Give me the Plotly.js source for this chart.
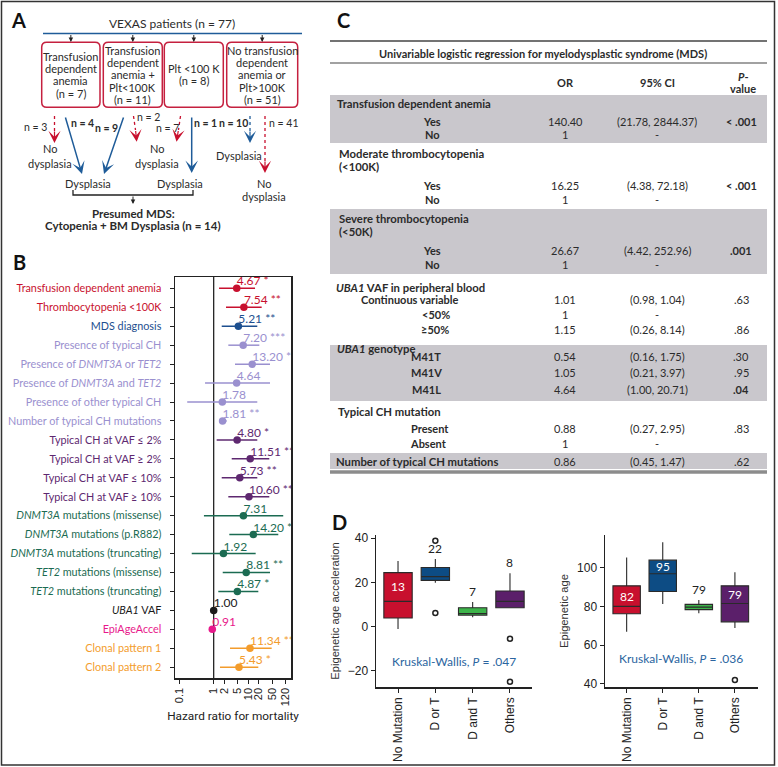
<!DOCTYPE html>
<html><head><meta charset="utf-8">
<script src="https://cdn.plot.ly/plotly-3.0.1.min.js"></script>
<style>html,body{margin:0;padding:0;background:#fff}#chart{width:778px;height:767px}</style>
</head><body><div id="chart"></div>
<script>
// ================= DATA =================
// Panel A (flow chart)
const flowTitle = "VEXAS patients (n = 77)";
const flowBoxes = [
  ["Transfusion", "dependent", "anemia", "(n = 7)"],
  ["Transfusion", "dependent", "anemia +", "Plt<100K", "(n = 11)"],
  ["Plt <100 K", "(n = 8)"],
  ["No transfusion", "dependent", "anemia or", "Plt>100K", "(n = 51)"]
];
const flowCounts = ["n = 3", "n = 4", "n = 9", "n = 2", "n = 7", "n = 1", "n = 10", "n = 41"];
const flowResult = ["Presumed MDS:", "Cytopenia + BM Dysplasia (n = 14)"];

// Panel B (forest plot)
const forestLabels = [
  "Transfusion dependent anemia", "Thrombocytopenia <100K", "MDS diagnosis",
  "Presence of typical CH", "Presence of DNMT3A or TET2", "Presence of DNMT3A and TET2",
  "Presence of other typical CH", "Number of typical CH mutations",
  "Typical CH at VAF \u2264 2%", "Typical CH at VAF \u2265 2%", "Typical CH at VAF \u2264 10%", "Typical CH at VAF \u2265 10%",
  "DNMT3A mutations (missense)", "DNMT3A mutations (p.R882)", "DNMT3A mutations (truncating)",
  "TET2 mutations (missense)", "TET2 mutations (truncating)",
  "UBA1 VAF", "EpiAgeAccel", "Clonal pattern 1", "Clonal pattern 2"
];
const forestHR = [4.67, 7.54, 5.21, 7.20, 13.20, 4.64, 1.78, 1.81, 4.80, 11.51, 5.73, 10.60, 7.31, 14.20, 1.92, 8.81, 4.87, 1.00, 0.91, 11.34, 5.43];
const forestLo = [1.43, 2.28, 1.71, 2.66, 4.16, 0.56, 0.17, 1.52, 1.22, 3.34, 1.71, 2.66, 0.52, 2.84, 0.23, 1.83, 1.36, 0.98, 0.88, 2.98, 1.52];
const forestHi = [15.9, 24.8, 18.5, 21.2, 43.3, 43.3, 18.5, 2.39, 18.5, 41.3, 18.5, 41.3, 105, 75.5, 16.6, 43.3, 19.8, 1.02, 0.94, 48.5, 19.8];
const forestStars = ["*", "**", "**", "***", "**", "", "", "**", "*", "**", "**", "***", "", "**", "", "**", "*", "", "", "**", "*"];
const forestGroup = ["clin", "clin", "mds", "ch", "ch", "ch", "ch", "ch", "vaf", "vaf", "vaf", "vaf",
  "dnmt", "dnmt", "dnmt", "dnmt", "dnmt", "uba", "epi", "clone", "clone"];
const forestTicks = [0.1, 1, 2, 5, 10, 20, 50, 120];

// Panel C (table)
const tblTitle = "Univariable logistic regression for myelodysplastic syndrome (MDS)";
const tblSections = ["Transfusion dependent anemia", "Moderate thrombocytopenia", "(<100K)",
  "Severe thrombocytopenia", "(<50K)", "UBA1 VAF in peripheral blood", "UBA1 genotype", "Typical CH mutation"];
const tblRowLabels = ["Yes", "No", "Yes", "No", "Yes", "No", "Continuous variable", "<50%", "\u226550%",
  "M41T", "M41V", "M41L", "Present", "Absent", "Number of typical CH mutations"];
const tblOR = ["140.40", "1", "16.25", "1", "26.67", "1", "1.01", "1", "1.15", "0.54", "1.05", "4.64", "0.88", "1", "0.86"];
const tblCI = ["(21.78, 2844.37)", "-", "(4.38, 72.18)", "-", "(4.42, 252.96)", "-", "(0.98, 1.04)", "-", "(0.26, 8.14)",
  "(0.16, 1.75)", "(0.21, 3.97)", "(1.00, 20.71)", "(0.27, 2.95)", "-", "(0.45, 1.47)"];
const tblP = ["< .001", "", "< .001", "", ".001", "", ".63", "", ".86", ".30", ".95", ".04", ".83", "", ".62"];

// Panel D (box plots)
const boxCats = ["No Mutation", "D or T", "D and T", "Others"];
const accQ1 = [3.9, 20.9, 5.2, 8.5];
const accMed = [11.4, 22.6, 5.9, 11.4];
const accQ3 = [24.4, 26.7, 8.5, 16.1];
const accLo = [-1.1, 19.8, 4.2, 8.5];
const accHi = [29.7, 30.5, 11.1, 24.1];
const accOutX = ["D or T", "D or T", "Others", "Others"];
const accOutY = [38.8, 6.2, -5.5, -24.9];
const accLabels = ["13", "22", "7", "8"];
const accP = ".047";
const ageQ1 = [76.2, 87.7, 78.3, 72.0];
const ageMed = [80.0, 96.9, 79.6, 81.5];
const ageQ3 = [90.6, 103.9, 81.0, 90.6];
const ageLo = [66.9, 81.2, 76.4, 68.8];
const ageHi = [105.3, 113.1, 83.3, 97.7];
const ageOutX = ["Others"];
const ageOutY = [41.9];
const ageLabels = ["82", "95", "79", "79"];
const ageP = ".036";

// ================= HELPERS / STYLE =================
const FONT = 'Lato, "Noto Sans", sans-serif';
const ARIAL = '"Liberation Sans", Arial, sans-serif';
const NARROW = '"Liberation Sans Narrow", Roboto, "Liberation Sans", sans-serif';
const W = 778, H = 767;
const X = p => p / W, Y = p => 1 - p / H;
const esc = s => s.replace(/&/g, '&amp;').replace(/</g, '&lt;').replace(/>/g, '&gt;');
const fmt = s => esc(s).replace(/\b(DNMT3A|TET2|UBA1)\b/g, '<i>$1</i>');
const TXT = '#2b2b2b';
const RED = '#c8102e', BLUE = '#1f5c99';

const shapes = [], annotations = [], traces = [];
function txt(x, y, text, o = {}) {
  annotations.push({xref: 'paper', yref: 'paper', x: X(x), y: Y(y), text: text, showarrow: false,
    xanchor: o.anchor || 'center', yanchor: 'middle', borderpad: 0,
    font: {family: o.family || FONT, size: o.size || 11, color: o.color || TXT}});
}
function arrow(tx, ty, fx, fy, color, o = {}) {
  annotations.push({xref: 'paper', yref: 'paper', x: X(tx), y: Y(ty), ax: fx - tx, ay: fy - ty,
    axref: 'pixel', ayref: 'pixel', text: '', showarrow: true,
    arrowhead: o.head ?? 3, arrowsize: o.size ?? 1.7, arrowwidth: o.width ?? 1.2,
    arrowcolor: color, standoff: 0});
}
function line(x0, y0, x1, y1, color, width, dash) {
  shapes.push({type: 'line', xref: 'paper', yref: 'paper', x0: X(x0), y0: Y(y0), x1: X(x1), y1: Y(y1),
    line: {color: color, width: width, dash: dash || 'solid'}});
}
function rect(x0, y0, x1, y1, fill, lc, lw, layer) {
  shapes.push({type: 'rect', xref: 'paper', yref: 'paper', x0: X(x0), y0: Y(y0), x1: X(x1), y1: Y(y1),
    fillcolor: fill, line: {color: lc || 'rgba(0,0,0,0)', width: lw || 0}, layer: layer || 'above'});
}
function rrect(x0, y0, x1, y1, r, color, width) {
  const p = (x, y) => X(x) + ',' + Y(y);
  const path = 'M' + p(x0 + r, y0) + ' L' + p(x1 - r, y0) + ' Q' + p(x1, y0) + ' ' + p(x1, y0 + r) +
    ' L' + p(x1, y1 - r) + ' Q' + p(x1, y1) + ' ' + p(x1 - r, y1) +
    ' L' + p(x0 + r, y1) + ' Q' + p(x0, y1) + ' ' + p(x0, y1 - r) +
    ' L' + p(x0, y0 + r) + ' Q' + p(x0, y0) + ' ' + p(x0 + r, y0) + ' Z';
  shapes.push({type: 'path', xref: 'paper', yref: 'paper', path: path, line: {color: color, width: width}});
}

// figure frame
rect(1.5, 1.5, 774.5, 765, 'rgba(0,0,0,0)', '#333', 1.5);

// panel letters
[['A', 18, 20], ['B', 19, 262], ['C', 343, 20], ['D', 339, 522]].forEach(l =>
  txt(l[1], l[2], '<b>' + l[0] + '</b>', {size: 20, color: '#111'}));

// ================= PANEL A =================
txt(171.7, 24, esc(flowTitle), {size: 12});
line(43, 33.5, 302, 33.5, BLUE, 1.5);
const boxX = [[41.7, 100], [103.3, 162.3], [164.3, 223.3], [226.7, 297.7]];
boxX.forEach((b, i) => {
  const cx = (b[0] + b[1]) / 2;
  arrow(cx, 42, cx, 33.5, '#222', {head: 2, size: 0.9, width: 1});
  rrect(b[0], 42.3, b[1], 107.3, 5, '#c5203f', 1.5);
  const n = flowBoxes[i].length;
  flowBoxes[i].forEach((t, k) => txt(cx, 74.8 + (k - (n - 1) / 2) * 12.3, esc(t), {size: 11}));
});
const CS = 10.5;
// box 1 outputs
line(54.5, 116, 54.5, 131, RED, 1.3, 'dot');
arrow(54.5, 143, 54.5, 130, RED);
txt(48, 127, esc(flowCounts[0]), {anchor: 'right', size: CS});
arrow(82, 174, 65, 116, BLUE, {width: 1.5, size: 1.4});
txt(70, 123, '<b>' + esc(flowCounts[1]) + '</b>', {anchor: 'left', size: CS});
txt(94, 128, '<b>' + esc(flowCounts[2]) + '</b>', {anchor: 'left', size: CS});
arrow(104, 174, 124, 116, BLUE, {width: 1.5, size: 1.4});
// box 2 no dysplasia
line(133.5, 116, 135.5, 130, RED, 1.3, 'dot');
arrow(136.7, 141.7, 135.5, 129.5, RED);
txt(136, 117.5, esc(flowCounts[3]), {anchor: 'left', size: CS});
// box 3
line(180.5, 116, 178.5, 130, RED, 1.3, 'dot');
arrow(176.5, 141.7, 178.5, 129.5, RED);
txt(180, 127.5, esc(flowCounts[4]), {anchor: 'right', size: CS});
arrow(191.7, 173, 191.7, 116, BLUE, {width: 1.5, size: 1.4});
txt(193, 123, '<b>' + esc(flowCounts[5]) + '</b>', {anchor: 'left', size: CS});
txt(218, 123, '<b>' + esc(flowCounts[6]) + '</b>', {anchor: 'left', size: CS});
// box 4
line(250, 116, 250, 131, BLUE, 1.3, 'dot');
arrow(250, 143, 250, 130, BLUE);
line(265, 116, 265, 161, RED, 1.3, 'dot');
arrow(265, 173, 265, 160, RED);
txt(268, 123, esc(flowCounts[7]), {anchor: 'left', size: CS});
// outcome texts
[[50, 148, 'No'], [50, 163, 'dysplasia'], [157, 148, 'No'], [157, 163, 'dysplasia'],
 [239, 155, 'Dysplasia'], [88, 183, 'Dysplasia'], [180, 183, 'Dysplasia'],
 [264, 183, 'No'], [264, 196, 'dysplasia']].forEach(t => txt(t[0], t[1], t[2], {size: 11}));
shapes.push({type: 'path', xref: 'paper', yref: 'paper',
  path: 'M' + X(73) + ',' + Y(190) + ' L' + X(73) + ',' + Y(195) + ' L' + X(193) + ',' + Y(195) + ' L' + X(193) + ',' + Y(190),
  line: {color: '#222', width: 1.3}});
arrow(133, 204, 133, 195, '#222', {head: 2, size: 0.9, width: 1});
txt(133, 213, '<b>' + esc(flowResult[0]) + '</b>', {size: 11.5});
txt(133, 226, '<b>' + esc(flowResult[1]) + '</b>', {size: 11.5});

// ================= PANEL C =================
const bands = [[95, 143], [209, 274], [345, 401], [453, 469]];
bands.forEach(b => rect(330, b[0], 767, b[1], '#c9c7cc', null, 0, 'below'));
line(330, 41, 767, 41, '#444', 1.5);
line(330, 63, 767, 63, '#444', 1.2);
line(330, 472, 767, 472, '#8c8c8c', 3.5);
txt(543, 53, '<b>' + esc(tblTitle) + '</b>', {size: 11});
const colOR = 565, colCI = 657, colP = 741;
txt(colOR, 82, '<b>OR</b>');
txt(colCI, 82, '<b>95% CI</b>');
txt(743, 77, '<b><i>P</i>-</b>');
txt(743, 89, '<b>value</b>');
const secY = [104, 154, 166, 219, 231, 287, 349, 411];
const secX = [336, 338, 338, 338, 338, 335, 336, 337];
tblSections.forEach((s, i) => txt(secX[i], secY[i], '<b>' + fmt(s) + '</b>', {anchor: 'left', size: 11.3}));
const rowY = [121, 135, 185, 200, 250, 265, 299, 314, 330, 357, 373, 389, 428, 443, 461];
const rowX = [432, 432, 432, 432, 432, 432, 410, 436, 435, 426, 426, 426, 430, 428.5, 335];
tblRowLabels.forEach((s, i) => {
  const last = i === tblRowLabels.length - 1;
  txt(rowX[i], rowY[i], '<b>' + fmt(s) + '</b>', {anchor: last ? 'left' : 'center', size: last ? 11.3 : 11});
  txt(colOR, rowY[i], esc(tblOR[i]));
  txt(colCI, rowY[i], esc(tblCI[i]));
  if (tblP[i]) {
    const pv = parseFloat(tblP[i].replace('<', '').trim());
    const t = esc(tblP[i]);
    txt(colP, rowY[i], pv < 0.05 ? '<b>' + t + '</b>' : t);
  }
});

// ================= PANEL B (forest) =================
const groupColor = {clin: '#c8102e', mds: '#1d4f8f', ch: '#9a90cf', vaf: '#5e2870', dnmt: '#1b6b52',
  uba: '#1a1a1a', epi: '#e8198b', clone: '#f39c2c'};
[...new Set(forestGroup)].forEach(g => {
  const idx = forestHR.map((_, i) => i).filter(i => forestGroup[i] === g);
  const c = groupColor[g];
  traces.push({type: 'scatter', mode: 'markers', xaxis: 'x', yaxis: 'y', hoverinfo: 'skip', showlegend: false,
    x: idx.map(i => forestHR[i]), y: idx,
    marker: {color: c, size: 7.5},
    error_x: {type: 'data', symmetric: false, array: idx.map(i => forestHi[i] - forestHR[i]),
      arrayminus: idx.map(i => forestHR[i] - forestLo[i]), color: c, thickness: 1.5, width: 0}});
  traces.push({type: 'scatter', mode: 'text', xaxis: 'x', yaxis: 'y', hoverinfo: 'skip', showlegend: false,
    x: idx.map(i => forestHR[i]), y: idx, cliponaxis: true,
    text: idx.map(i => forestHR[i].toFixed(2) + (forestStars[i] ? ' ' + forestStars[i] : '')),
    textposition: 'top right', textfont: {family: FONT, size: 12, color: c}});
});
shapes.push({type: 'line', xref: 'x', yref: 'y domain', x0: 1, x1: 1, y0: 0, y1: 1,
  line: {color: '#111', width: 1.2}, layer: 'below'});

// ================= PANEL D (boxes) =================
const boxColors = ['#c8102e', '#0d4c84', '#3db44a', '#5b1f6a'];
function boxes(ax, q1, med, q3, lo, hi, outX, outY, labels, inside) {
  boxCats.forEach((c, i) => {
    traces.push({type: 'box', xaxis: 'x' + ax, yaxis: 'y' + ax, x: [c], q1: [q1[i]], median: [med[i]], q3: [q3[i]],
      lowerfence: [lo[i]], upperfence: [hi[i]], boxpoints: false, width: 0.76, whiskerwidth: 0,
      fillcolor: boxColors[i], line: {color: '#2a2a2a', width: 1.1}, hoverinfo: 'skip', showlegend: false});
    annotations.push({xref: 'x' + ax, yref: 'y' + ax, x: c, y: inside[i] ? (med[i] + q3[i]) / 2 : hi[i],
      yanchor: inside[i] ? 'middle' : 'bottom', yshift: inside[i] ? 0 : 1, showarrow: false, text: labels[i],
      font: {family: FONT, size: 12, color: inside[i] ? '#fff' : '#222'}});
  });
  traces.push({type: 'scatter', mode: 'markers', xaxis: 'x' + ax, yaxis: 'y' + ax, x: outX, y: outY,
    marker: {symbol: 'circle-open', size: 5, color: '#222', line: {width: 1.5}}, hoverinfo: 'skip', showlegend: false});
}
boxes(2, accQ1, accMed, accQ3, accLo, accHi, accOutX, accOutY, accLabels, [true, false, false, false]);
boxes(3, ageQ1, ageMed, ageQ3, ageLo, ageHi, ageOutX, ageOutY, ageLabels, [true, true, false, true]);
annotations.push({xref: 'x2', yref: 'y2', x: 1.5, y: -15.8, showarrow: false,
  text: 'Kruskal-Wallis, <i>P</i> = ' + accP, font: {family: FONT, size: 12, color: '#2b65a0'}});
annotations.push({xref: 'x3', yref: 'y3', x: 1.5, y: 53.1, showarrow: false,
  text: 'Kruskal-Wallis, <i>P</i> = ' + ageP, font: {family: FONT, size: 12, color: '#2b65a0'}});

const boxXAxis = dom => ({domain: dom, type: 'category', range: [-0.59, 3.59], categoryorder: 'array', categoryarray: boxCats,
  showline: true, linecolor: '#222', linewidth: 1.5, ticks: 'outside', ticklen: 4, tickcolor: '#222',
  tickangle: -90, tickfont: {family: ARIAL, size: 12, color: '#222'}, showgrid: false, zeroline: false, automargin: false});
const boxYAxis = (anchor, range, tv, title) => ({domain: [Y(687), Y(535)], anchor: anchor, range: range,
  tickvals: tv, ticktext: tv.map(v => v < 0 ? '\u2212' + (-v) : String(v)),
  showline: true, linecolor: '#222', linewidth: 1.5, ticks: 'outside', ticklen: 4, tickcolor: '#222',
  tickfont: {family: ARIAL, size: 12, color: '#222'}, showgrid: false, zeroline: false, automargin: false,
  title: {text: title, font: {family: ARIAL, size: 11.2, color: '#333'}, standoff: 6}});

const layout = {
  width: W, height: H, margin: {l: 0, r: 0, t: 0, b: 0}, paper_bgcolor: '#fff', plot_bgcolor: 'rgba(0,0,0,0)',
  showlegend: false, font: {family: FONT, color: TXT},
  xaxis: {domain: [X(175), X(291)], anchor: 'y', type: 'log', range: [-1.125, 2.247],
    tickvals: forestTicks, ticktext: forestTicks.map(String), tickangle: -90,
    showline: true, mirror: true, linecolor: '#222', linewidth: 1.5, ticks: 'outside', ticklen: 4, tickcolor: '#222',
    tickfont: {family: ARIAL, size: 11, color: '#222'}, showgrid: false, zeroline: false, automargin: false,
    title: {text: 'Hazard ratio for mortality', font: {family: NARROW, size: 11.8, color: '#222'}, standoff: 6}},
  yaxis: {domain: [Y(678), Y(277)], anchor: 'x', range: [20.57, -0.6],
    tickvals: forestLabels.map((_, i) => i),
    ticktext: forestLabels.map((s, i) => '<span style="color:' + groupColor[forestGroup[i]] + '">' + fmt(s) + '</span>'),
    showline: true, mirror: true, linecolor: '#222', linewidth: 1.5, ticks: 'outside', ticklen: 4, tickcolor: '#222',
    ticklabelstandoff: 6, tickfont: {family: FONT, size: 10.8}, showgrid: false, zeroline: false, automargin: false},
  xaxis2: Object.assign(boxXAxis([X(376), X(532)]), {anchor: 'y2'}),
  yaxis2: boxYAxis('x2', [-27.3, 41.4], [-20, 0, 20, 40], 'Epigenetic age acceleration'),
  xaxis3: Object.assign(boxXAxis([X(605), X(758)]), {anchor: 'y3', range: [-0.6, 3.64]}),
  yaxis3: boxYAxis('x3', [38.3, 116.9], [40, 60, 80, 100], 'Epigenetic age'),
  shapes: shapes, annotations: annotations
};
Plotly.newPlot('chart', traces, layout, {staticPlot: true, displayModeBar: false});
</script></body></html>
